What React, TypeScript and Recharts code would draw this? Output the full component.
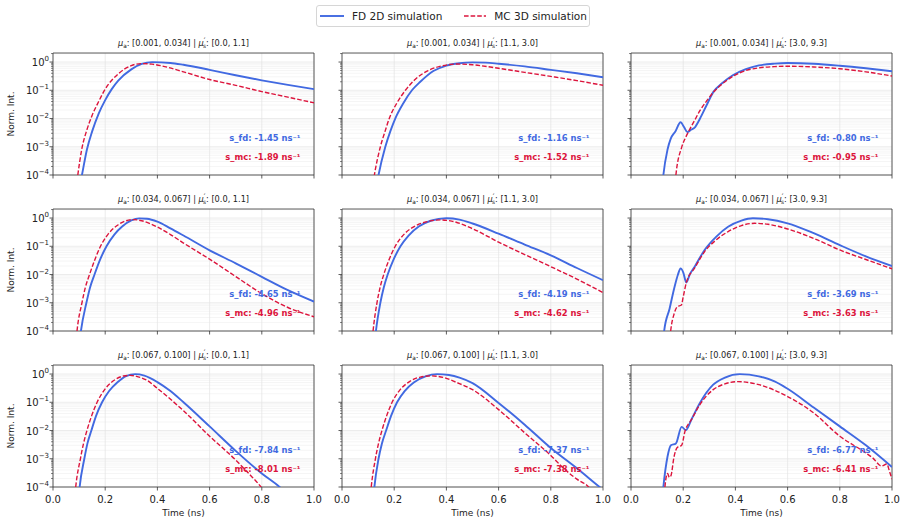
import React from 'react';
import { LineChart, Line, XAxis, YAxis, CartesianGrid, ReferenceArea } from 'recharts';

type Pt = [number, number];

// row = absorption range, column = reduced scattering range
const MU_A = ['[0.001, 0.034]', '[0.034, 0.067]', '[0.067, 0.100]'];
const MU_S = ['[0.0, 1.1]', '[1.1, 3.0]', '[3.0, 9.3]'];

// [time (ns), normalised intensity]
const FD_A1_S1: Pt[] = [[0.1, 3e-5], [0.111, 1e-4], [0.13, 8e-4], [0.15, 3.5e-3], [0.175, 1.5e-2], [0.2, 4.5e-2], [0.225, 0.11], [0.25, 0.22], [0.3, 0.55], [0.34, 0.86], [0.38, 0.99], [0.45, 0.93], [0.5, 0.8], [0.6, 0.53], [0.7, 0.34], [0.8, 0.225], [0.9, 0.155], [1.0, 0.11]];
const MC_A1_S1: Pt[] = [[0.085, 2e-5], [0.095, 1e-4], [0.11, 8e-4], [0.13, 4e-3], [0.15, 1.3e-2], [0.175, 4e-2], [0.2, 0.11], [0.25, 0.38], [0.3, 0.75], [0.34, 0.88], [0.38, 0.84], [0.42, 0.72], [0.5, 0.45], [0.6, 0.24], [0.7, 0.15], [0.8, 0.09], [0.9, 0.057], [1.0, 0.036]];

const FD_A1_S2: Pt[] = [[0.13, 3e-5], [0.14, 1e-4], [0.166, 1e-3], [0.185, 3.5e-3], [0.204, 1e-2], [0.235, 3.5e-2], [0.268, 0.1], [0.3, 0.2], [0.35, 0.48], [0.4, 0.75], [0.45, 0.91], [0.5, 0.97], [0.55, 0.95], [0.6, 0.87], [0.7, 0.7], [0.8, 0.53], [0.9, 0.4], [1.0, 0.29]];
const MC_A1_S2: Pt[] = [[0.115, 3e-5], [0.124, 1e-4], [0.147, 1e-3], [0.165, 3.5e-3], [0.181, 1e-2], [0.21, 3.5e-2], [0.243, 0.1], [0.28, 0.24], [0.33, 0.5], [0.38, 0.72], [0.44, 0.85], [0.5, 0.8], [0.6, 0.6], [0.7, 0.43], [0.8, 0.31], [0.9, 0.22], [1.0, 0.15]];

const FD_A1_S3: Pt[] = [[0.117, 2e-5], [0.124, 1e-4], [0.14, 8e-4], [0.152, 1.9e-3], [0.17, 3.5e-3], [0.19, 7.4e-3], [0.203, 5e-3], [0.216, 3.3e-3], [0.23, 4e-3], [0.245, 4.9e-3], [0.264, 9.8e-3], [0.29, 3e-2], [0.315, 8.6e-2], [0.35, 0.18], [0.39, 0.34], [0.44, 0.56], [0.49, 0.76], [0.55, 0.88], [0.6, 0.92], [0.7, 0.87], [0.8, 0.74], [0.9, 0.6], [1.0, 0.47]];
const MC_A1_S3: Pt[] = [[0.165, 2e-5], [0.172, 1e-4], [0.194, 9.5e-4], [0.21, 2.2e-3], [0.226, 4.3e-3], [0.245, 9e-3], [0.264, 1.9e-2], [0.29, 4.2e-2], [0.315, 8.4e-2], [0.35, 0.17], [0.39, 0.31], [0.44, 0.5], [0.49, 0.62], [0.55, 0.69], [0.6, 0.71], [0.7, 0.67], [0.8, 0.58], [0.9, 0.45], [1.0, 0.32]];

const FD_A2_S1: Pt[] = [[0.098, 2e-5], [0.107, 1e-4], [0.128, 1e-3], [0.142, 3.5e-3], [0.159, 1e-2], [0.18, 3.3e-2], [0.205, 0.1], [0.235, 0.26], [0.265, 0.5], [0.3, 0.82], [0.33, 0.97], [0.36, 0.94], [0.4, 0.74], [0.45, 0.43], [0.5, 0.24], [0.6, 0.072], [0.7, 0.025], [0.8, 8.3e-3], [0.9, 2.8e-3], [1.0, 1.1e-3]];
const MC_A2_S1: Pt[] = [[0.085, 2e-5], [0.092, 1e-4], [0.111, 1e-3], [0.124, 3.5e-3], [0.14, 1e-2], [0.16, 3.3e-2], [0.182, 0.1], [0.21, 0.26], [0.25, 0.58], [0.28, 0.8], [0.31, 0.88], [0.34, 0.8], [0.4, 0.48], [0.45, 0.26], [0.5, 0.13], [0.6, 0.035], [0.7, 8.5e-3], [0.8, 2.1e-3], [0.9, 6.8e-4], [1.0, 3.2e-4]];

const FD_A2_S2: Pt[] = [[0.122, 2e-5], [0.13, 1e-4], [0.147, 1e-3], [0.16, 3.5e-3], [0.175, 1e-2], [0.197, 3.3e-2], [0.224, 0.1], [0.255, 0.24], [0.294, 0.5], [0.34, 0.8], [0.4, 0.98], [0.45, 0.88], [0.5, 0.64], [0.6, 0.28], [0.7, 0.115], [0.8, 0.048], [0.9, 0.017], [1.0, 6.3e-3]];
const MC_A2_S2: Pt[] = [[0.112, 2e-5], [0.119, 1e-4], [0.134, 1e-3], [0.146, 3.5e-3], [0.16, 1e-2], [0.18, 3.3e-2], [0.204, 0.1], [0.24, 0.28], [0.28, 0.52], [0.33, 0.76], [0.377, 0.86], [0.42, 0.78], [0.5, 0.42], [0.6, 0.14], [0.7, 0.051], [0.8, 0.019], [0.9, 6.9e-3], [1.0, 2.3e-3]];

const FD_A2_S3: Pt[] = [[0.12, 2e-5], [0.127, 1e-4], [0.148, 6.3e-4], [0.167, 3.7e-3], [0.18, 1e-2], [0.19, 1.65e-2], [0.2, 1.2e-2], [0.212, 5.2e-3], [0.225, 1e-2], [0.244, 1.9e-2], [0.282, 7.4e-2], [0.327, 0.22], [0.372, 0.49], [0.423, 0.81], [0.467, 0.98], [0.525, 0.91], [0.6, 0.65], [0.7, 0.29], [0.8, 0.11], [0.9, 0.044], [1.0, 0.02]];
const MC_A2_S3: Pt[] = [[0.145, 2e-5], [0.152, 1e-4], [0.165, 4e-4], [0.177, 7.2e-4], [0.193, 8.3e-4], [0.2, 1.6e-3], [0.212, 5.2e-3], [0.244, 1.7e-2], [0.282, 6.5e-2], [0.327, 0.17], [0.372, 0.33], [0.423, 0.54], [0.474, 0.65], [0.525, 0.6], [0.6, 0.41], [0.7, 0.19], [0.8, 0.074], [0.9, 0.034], [1.0, 0.016]];

const FD_A3_S1: Pt[] = [[0.095, 2e-5], [0.102, 1e-4], [0.12, 1e-3], [0.132, 3.5e-3], [0.147, 1e-2], [0.165, 3.3e-2], [0.188, 0.1], [0.215, 0.25], [0.246, 0.5], [0.28, 0.85], [0.315, 0.99], [0.35, 0.88], [0.4, 0.52], [0.45, 0.25], [0.5, 0.1], [0.6, 0.014], [0.7, 1.9e-3], [0.8, 3e-4], [0.868, 1e-4], [0.9, 5e-5]];
const MC_A3_S1: Pt[] = [[0.08, 2e-5], [0.087, 1e-4], [0.105, 1e-3], [0.117, 3.5e-3], [0.13, 1e-2], [0.148, 3.3e-2], [0.169, 0.1], [0.2, 0.3], [0.24, 0.65], [0.27, 0.85], [0.296, 0.9], [0.33, 0.78], [0.36, 0.6], [0.4, 0.31], [0.5, 0.05], [0.6, 6.3e-3], [0.7, 9e-4], [0.75, 3e-4], [0.797, 1e-4], [0.85, 2e-5]];

const FD_A3_S2: Pt[] = [[0.117, 2e-5], [0.124, 1e-4], [0.14, 1e-3], [0.153, 3.5e-3], [0.169, 1e-2], [0.188, 3.3e-2], [0.211, 0.1], [0.24, 0.25], [0.275, 0.5], [0.32, 0.82], [0.364, 0.99], [0.41, 0.92], [0.45, 0.75], [0.5, 0.48], [0.6, 0.095], [0.7, 1.6e-2], [0.8, 2.4e-3], [0.9, 4.6e-4], [0.987, 1e-4], [1.0, 8e-5]];
const MC_A3_S2: Pt[] = [[0.105, 2e-5], [0.112, 1e-4], [0.128, 1e-3], [0.14, 3.5e-3], [0.153, 1e-2], [0.171, 3.3e-2], [0.192, 0.1], [0.22, 0.26], [0.26, 0.55], [0.3, 0.78], [0.345, 0.86], [0.39, 0.75], [0.44, 0.5], [0.5, 0.28], [0.6, 0.055], [0.7, 8.3e-3], [0.8, 1.3e-3], [0.85, 4.5e-4], [0.9, 1.9e-4], [0.945, 1e-4], [0.97, 5e-5]];

const FD_A3_S3: Pt[] = [[0.117, 2e-5], [0.124, 1e-4], [0.14, 1.2e-3], [0.153, 3e-3], [0.172, 3.5e-3], [0.194, 1.35e-2], [0.21, 1.03e-2], [0.232, 2.5e-2], [0.264, 9.5e-2], [0.315, 0.42], [0.36, 0.75], [0.417, 0.99], [0.49, 0.83], [0.55, 0.55], [0.6, 0.3], [0.7, 0.065], [0.8, 1.4e-2], [0.9, 3e-3], [1.0, 5.1e-4]];
const MC_A3_S3: Pt[] = [[0.125, 2e-5], [0.13, 1e-4], [0.14, 3e-4], [0.147, 2.2e-4], [0.153, 2.5e-4], [0.165, 1.2e-3], [0.177, 2.5e-3], [0.194, 3e-3], [0.207, 9.5e-3], [0.232, 2.45e-2], [0.264, 8.3e-2], [0.315, 0.28], [0.36, 0.45], [0.41, 0.54], [0.49, 0.42], [0.6, 0.16], [0.7, 0.042], [0.8, 6.3e-3], [0.9, 1.6e-3], [0.927, 1.05e-3], [0.96, 5.5e-4], [0.98, 6.5e-4], [0.99, 3.7e-4], [1.0, 1.9e-4]];

const FD: Pt[][][] = [
  [FD_A1_S1, FD_A1_S2, FD_A1_S3],
  [FD_A2_S1, FD_A2_S2, FD_A2_S3],
  [FD_A3_S1, FD_A3_S2, FD_A3_S3],
];
const MC: Pt[][][] = [
  [MC_A1_S1, MC_A1_S2, MC_A1_S3],
  [MC_A2_S1, MC_A2_S2, MC_A2_S3],
  [MC_A3_S1, MC_A3_S2, MC_A3_S3],
];

// fitted decay slopes (ns^-1)
const S_FD = [['-1.45', '-1.16', '-0.80'], ['-4.65', '-4.19', '-3.69'], ['-7.84', '-7.37', '-6.77']];
const S_MC = [['-1.89', '-1.52', '-0.95'], ['-4.96', '-4.62', '-3.63'], ['-8.01', '-7.38', '-6.41']];

const X_TICKS = [0, 0.2, 0.4, 0.6, 0.8, 1.0];
const Y_MAJOR = [1e-4, 1e-3, 1e-2, 1e-1, 1];
const Y_EXP = ['−4', '−3', '−2', '−1', '0'];
const Y_MINOR = [
  2e-4, 3e-4, 4e-4, 5e-4, 6e-4, 7e-4, 8e-4, 9e-4,
  2e-3, 3e-3, 4e-3, 5e-3, 6e-3, 7e-3, 8e-3, 9e-3,
  2e-2, 3e-2, 4e-2, 5e-2, 6e-2, 7e-2, 8e-2, 9e-2,
  0.2, 0.3, 0.4, 0.5, 0.6, 0.7, 0.8, 0.9, 2,
];
const Y_ALL = [...Y_MAJOR, ...Y_MINOR].sort((a, b) => a - b);
const Y_DOMAIN: [number, number] = [1e-4, 2.09];

const BLUE = '#4169E1';
const RED = '#DC143C';
const FONT = '"DejaVu Sans", sans-serif';

const COL_LEFT = [53, 342, 631];
const ROW_TOP = [53, 209, 365];
const PW = 261;
const PH = 122;
const PAD_L = 46;
const PAD_T = 4;
const PAD_R = 14;
const PAD_B = 30;

const toRows = (pts: Pt[]) => pts.map(([t, v]) => ({ t, v }));

const YTick = (props: any) => {
  const { x, y, payload, showLabel } = props;
  const idx = Y_MAJOR.indexOf(payload.value);
  const major = idx >= 0;
  const len = major ? 3.5 : 2;
  return (
    <g>
      <line x1={x} x2={x - len} y1={y} y2={y} stroke="#333" strokeWidth={major ? 0.8 : 0.6} />
      {major && showLabel && (
        <text x={x - 4} y={y + 4} textAnchor="end" fontSize={10} fill="#222" fontFamily={FONT}>
          10<tspan dy={-5} fontSize={7}>{Y_EXP[idx]}</tspan>
        </text>
      )}
    </g>
  );
};

const XTick = (props: any) => {
  const { x, y, payload, showLabel } = props;
  return (
    <g>
      <line x1={x} x2={x} y1={y} y2={y + 3.5} stroke="#333" strokeWidth={0.8} />
      {showLabel && (
        <text x={x} y={y + 15.5} textAnchor="middle" fontSize={10} fill="#222" fontFamily={FONT}>
          {payload.value.toFixed(1)}
        </text>
      )}
    </g>
  );
};

const Panel = ({ r, c }: { r: number; c: number }) => {
  const showX = r === 2;
  const showY = c === 0;
  return (
    <div style={{ position: 'absolute', left: COL_LEFT[c] - PAD_L, top: ROW_TOP[r] - PAD_T }}>
      <LineChart
        width={PW + PAD_L + PAD_R}
        height={PH + PAD_T + PAD_B}
        margin={{ top: PAD_T, right: PAD_R, left: 0, bottom: 0 }}
      >
        <CartesianGrid horizontalValues={Y_MINOR} vertical={false} stroke="#f1f1f1" strokeWidth={0.7} />
        <CartesianGrid horizontalValues={Y_MAJOR} verticalValues={X_TICKS} stroke="#e4e4e4" strokeWidth={0.7} />
        <XAxis
          type="number"
          dataKey="t"
          domain={[0, 1]}
          allowDataOverflow
          ticks={X_TICKS}
          interval={0}
          height={PAD_B}
          axisLine={false}
          tickLine={false}
          tickSize={0}
          tickMargin={0}
          tick={<XTick showLabel={showX} />}
        />
        <YAxis
          scale="log"
          domain={Y_DOMAIN}
          allowDataOverflow
          ticks={Y_ALL}
          interval={0}
          width={PAD_L}
          axisLine={false}
          tickLine={false}
          tickSize={0}
          tickMargin={0}
          tick={<YTick showLabel={showY} />}
        />
        <Line
          data={toRows(FD[r][c])}
          dataKey="v"
          type="monotone"
          stroke={BLUE}
          strokeWidth={1.9}
          dot={false}
          isAnimationActive={false}
        />
        <Line
          data={toRows(MC[r][c])}
          dataKey="v"
          type="monotone"
          stroke={RED}
          strokeWidth={1.4}
          strokeDasharray="4.6 2"
          dot={false}
          isAnimationActive={false}
        />
        <ReferenceArea x1={0} x2={1} y1={Y_DOMAIN[0]} y2={Y_DOMAIN[1]} fill="none" stroke="#333" strokeWidth={0.8} />
      </LineChart>
    </div>
  );
};

const Overlay = () => {
  const texts: React.ReactNode[] = [];
  for (let r = 0; r < 3; r++) {
    for (let c = 0; c < 3; c++) {
      const L = COL_LEFT[c];
      const T = ROW_TOP[r];
      const cx = L + PW / 2;
      texts.push(
        <text key={`t${r}${c}`} x={cx} y={T - 7} textAnchor="middle" fontSize={8.2} fill="#222">
          <tspan fontStyle="italic">μ</tspan>
          <tspan fontSize={5.8} dy={1.6}>a</tspan>
          <tspan dy={-1.6}>{`: ${MU_A[r]} | `}</tspan>
          <tspan fontStyle="italic">μ</tspan>
          <tspan fontSize={7.5} dy={-2.6}>′</tspan>
          <tspan fontSize={5.8} dx={-2.4} dy={4.4}>s</tspan>
          <tspan dy={-1.8}>{`: ${MU_S[c]}`}</tspan>
        </text>,
      );
      texts.push(
        <text key={`f${r}${c}`} x={L + PW - 13.5} y={T + 88} textAnchor="end" fontSize={8.4} fontWeight="bold" fill={BLUE}>
          {`s_fd: ${S_FD[r][c]} ns⁻¹`}
        </text>,
      );
      texts.push(
        <text key={`m${r}${c}`} x={L + PW - 13.5} y={T + 107} textAnchor="end" fontSize={8.4} fontWeight="bold" fill={RED}>
          {`s_mc: ${S_MC[r][c]} ns⁻¹`}
        </text>,
      );
    }
    texts.push(
      <text key={`y${r}`} transform={`translate(13.5, ${ROW_TOP[r] + PH / 2}) rotate(-90)`} textAnchor="middle" fontSize={9} fill="#222">
        Norm. Int.
      </text>,
    );
  }
  for (let c = 0; c < 3; c++) {
    texts.push(
      <text key={`x${c}`} x={COL_LEFT[c] + PW / 2} y={516} textAnchor="middle" fontSize={9} fill="#222">
        Time (ns)
      </text>,
    );
  }
  return (
    <svg width={906} height={525} style={{ position: 'absolute', left: 0, top: 0, pointerEvents: 'none', fontFamily: FONT }}>
      {texts}
    </svg>
  );
};

const Legend = () => (
  <div
    style={{
      position: 'absolute',
      left: 316,
      top: 5,
      width: 272,
      height: 20,
      border: '1px solid #d6d6d6',
      borderRadius: 3,
      fontFamily: FONT,
      fontSize: 10.5,
      color: '#222',
      display: 'flex',
      alignItems: 'center',
      boxSizing: 'content-box',
    }}
  >
    <svg width={26} height={10} style={{ marginLeft: 2 }}>
      <line x1={1} x2={25} y1={5} y2={5} stroke={BLUE} strokeWidth={1.9} />
    </svg>
    <span style={{ marginLeft: 7 }}>FD 2D simulation</span>
    <svg width={24} height={10} style={{ marginLeft: 21 }}>
      <line x1={1} x2={23} y1={5} y2={5} stroke={RED} strokeWidth={1.4} strokeDasharray="4.6 2" />
    </svg>
    <span style={{ marginLeft: 7 }}>MC 3D simulation</span>
  </div>
);

export default function App() {
  const panels = [];
  for (let r = 0; r < 3; r++) {
    for (let c = 0; c < 3; c++) {
      panels.push(<Panel key={`${r}-${c}`} r={r} c={c} />);
    }
  }
  return (
    <div style={{ position: 'absolute', left: 0, top: 0, width: 906, height: 525, background: '#fff', fontFamily: FONT }}>
      {panels}
      <Overlay />
      <Legend />
    </div>
  );
}
